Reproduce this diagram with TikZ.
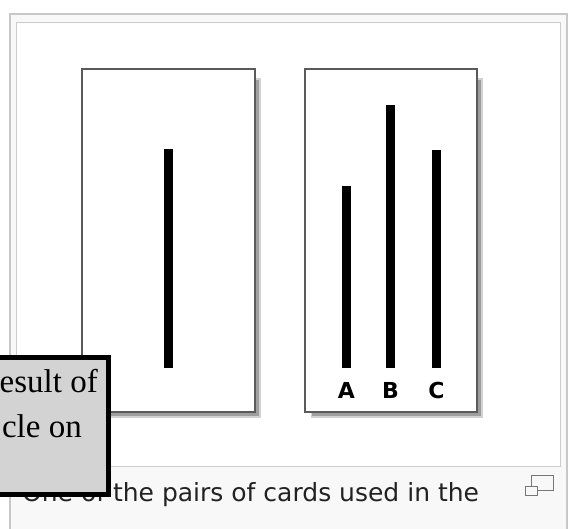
\documentclass[tikz,border=0pt]{standalone}
\usepackage{fontspec}
\setmainfont{Liberation Serif}
\newfontfamily\capfont{DejaVu Sans}
\newfontfamily\labfont{DejaVu Sans}
\definecolor{framec}{HTML}{C8C8C8}
\definecolor{framebg}{HTML}{F8F8F8}
\definecolor{innerc}{HTML}{CCCCCC}
\definecolor{cardc}{HTML}{5A5A5A}
\definecolor{boxgray}{HTML}{D3D3D3}
\definecolor{iconc}{HTML}{777777}
\definecolor{captext}{HTML}{222222}
\tikzset{
  cardbox/.style={draw=cardc, line width=2, fill=white, inner sep=0pt, minimum width=173pt, minimum height=343pt},
  cardshadow/.style={fill=black!38},
  bar/.style={fill=black},
  letter/.style={font=\labfont\bfseries\fontsize{22}{26}\selectfont, anchor=base, inner sep=0pt},
  boxtext/.style={font=\fontsize{33}{40}\selectfont, anchor=base east, inner sep=0pt},
}
\begin{document}
\begin{tikzpicture}[x=1pt,y=-1pt]
\useasboundingbox (0,0) rectangle (571,529);
\clip (0,0) rectangle (571,529);
\fill[white] (0,0) rectangle (571,529);
% thumbnail frame
\draw[framec, line width=2, fill=framebg] (10,14) rectangle (567,545);
\draw[innerc, line width=1, fill=white] (16.5,22.5) rectangle (560.5,466.5);
% shadows
\fill[black!18] (88,78) rectangle (261,418);
\fill[cardshadow] (89,80) rectangle (259,416);
\fill[black!18] (311,78) rectangle (483,418);
\fill[cardshadow] (312,80) rectangle (481,416);
% cards
\node[cardbox] (L) at (168.5,240.5) {};
\node[cardbox, minimum width=172pt] (R) at (391,240.5) {};
% bars
\fill[bar] (164,149) rectangle (173,368);
\fill[bar] (342,186) rectangle (351,368);
\fill[bar] (386,105) rectangle (395,368);
\fill[bar] (432,150) rectangle (441,368);
% letters
\node[letter] (A) at (346.5,399) {A};
\node[letter] (B) at (390.5,399) {B};
\node[letter] (C) at (436.5,399) {C};
% caption
\node[anchor=base west, inner sep=0pt, text=captext, font=\capfont\fontsize{25}{30}\selectfont] (cap) at (22,502) {One of the pairs of cards used in the};
% enlarge icon
\draw[iconc, line width=1.3] (531.5,475.5) rectangle (553.5,490.5);
\draw[iconc, line width=1.3, fill=framebg] (525.5,486.5) rectangle (537.5,495.5);
% overlay grey box
\draw[black, line width=5, fill=boxgray] (-10,357.5) rectangle (108.5,494.5);
\begin{scope}
\clip (-10,360) rectangle (106,492);
\node[boxtext] (t1) at (98,393) {esult of};
\node[boxtext] (t2) at (82,438) {cle on};
\end{scope}
\end{tikzpicture}
\end{document}
